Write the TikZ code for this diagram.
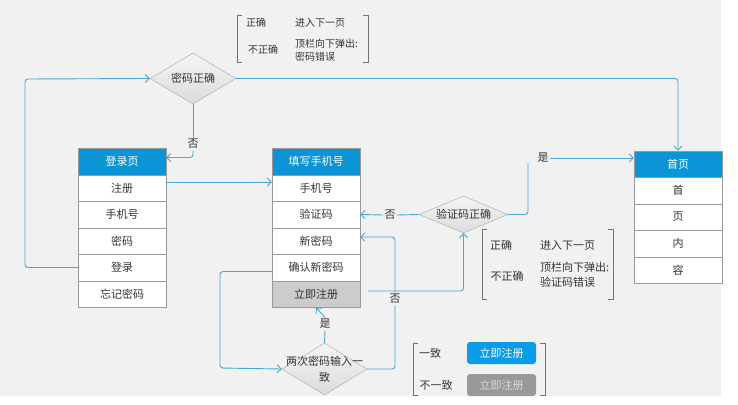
\documentclass[tikz,border=0pt]{standalone}
\usepackage{fontspec}
\setmainfont{Noto Sans CJK SC}
\usetikzlibrary{shapes.geometric,arrows.meta}

\definecolor{bg}{HTML}{F1F1F1}
\definecolor{lineblue}{HTML}{45A8D6}
\definecolor{headblue}{HTML}{0B94D6}
\definecolor{btnblue}{HTML}{0B9BEB}
\definecolor{txt}{HTML}{333333}

\tikzset{
  cell/.style={draw=black!40, fill=white, minimum width=88pt, minimum height=26.5pt, inner sep=0pt, text=txt},
  head/.style={cell, fill=headblue, text=white},
  decision/.style={diamond, draw=black!35, top color=white!96!black, bottom color=black!14, inner sep=0pt, text=txt},
  flow/.style={draw=lineblue, line width=0.9pt, rounded corners=3pt},
  arr/.style={flow, ->},
  tag/.style={fill=bg, inner sep=1.5pt, text=txt},
  note/.style={text=txt, inner sep=0pt},
  bracket/.style={draw=black!55, line width=0.6pt},
  btn/.style={rounded corners=3pt, minimum width=69pt, minimum height=22pt, inner sep=0pt, text=white},
}

\begin{document}
\begin{tikzpicture}[x=1pt,y=-1pt, font=\fontsize{11}{13}\selectfont,
    >={Straight Barb[length=4pt,width=8pt]}]

	% fondo
	\fill[bg] (0,0) rectangle (721,396);
	\useasboundingbox (0,0) rectangle (738,404);

	% 登录页
	\node[head] (login) at (122,161.5) {登录页};
	\foreach \t [count=\i] in {注册,手机号,密码,登录,忘记密码}
		\node[cell] (login\i) at (122,161.5+26.5*\i) {\t};

	% 填写手机号
	\node[head] (phone) at (316,161.5) {填写手机号};
	\foreach \t [count=\i] in {手机号,验证码,新密码,确认新密码}
		\node[cell] (phone\i) at (316,161.5+26.5*\i) {\t};
	\node[cell, fill=black!20] (phone5) at (316,294) {立即注册};

	% 首页
	\node[head] (home) at (678,164) {首页};
	\foreach \t [count=\i] in {首,页,内,容}
		\node[cell] (home\i) at (678,164+26.5*\i) {\t};

	% Rombos
	\node[decision, aspect=1.7, minimum width=86pt, minimum height=51pt] (pwdok) at (193,78.5) {密码正确};
	\node[decision, aspect=2.4, minimum width=89pt, minimum height=37pt] (vcode) at (463.5,214.5) {验证码正确};
	\node[decision, aspect=1.6, minimum width=85pt, minimum height=52pt] (match) at (324.5,369) {};
	\node[note, align=center, font=\fontsize{11}{16}\selectfont] (matchtext) at (match.center) {两次密码输入一\\致};

	% Etiquetas
	\node[tag] (no1) at (193,144) {否};
	\node[tag] (no2) at (390,215) {否};
	\node[tag] (no3) at (395,299) {否};
	\node[tag] (yes1) at (543,158) {是};
	\node[tag] (yes2) at (325,324) {是};
	\coordinate (loopL) at (25,79);
	\coordinate (loopM) at (220,368);
	\coordinate (yesup) at (528,163);

	% Flechas
	\draw[arr] (login4.west) -| (loopL) -- (pwdok.west);
	\draw[arr] (pwdok.east) -| (home.north);
	\draw[flow] (pwdok.south) -- (no1.north);
	\draw[arr] (no1.south) |- ([yshift=4pt]login.east);
	\draw[arr] ([yshift=6pt]login1.east) -- ([yshift=6pt]phone1.west);
	\draw[flow] (vcode.west) -- (no2.east);
	\draw[arr] (no2.west) -- (phone2.east);
	\draw[flow] (vcode.east) -| (yesup);
	\draw[arr] (yes1.east) -- (home.west |- yes1.east);
	\draw[arr, shorten <=8pt] ([yshift=3pt]phone5.east) -| (vcode.south);
	\draw[flow] (match.east) -| (no3.south);
	\draw[arr] (no3.north) |- ([yshift=4pt]phone3.east);
	\draw[arr] ([yshift=-4pt]phone4.west) -| (loopM) -- (match.west);
	\draw[flow] (match.north) -- (yes2.south);
	\draw[arr] (yes2.north) -- (phone5.south);

	% Nota 1
	\draw[bracket] (242,15) -- (237,15) -- (237,62) -- (242,62);
	\draw[bracket] (363,15) -- (368,15) -- (368,62) -- (363,62);
	\begin{scope}[font=\fontsize{10}{12.5}\selectfont]
		\node[note] (n1a) at (256,23) {正确};
		\node[note, anchor=west] (n1b) at (295,23) {进入下一页};
		\node[note] (n1c) at (263,50) {不正确};
		\node[note, anchor=west, align=left] (n1d) at (295,50) {顶栏向下弹出:\\密码错误};
	\end{scope}

	% Nota 2
	\draw[bracket] (487,229) -- (482,229) -- (482,299) -- (487,299);
	\draw[bracket] (608,229) -- (613,229) -- (613,299) -- (608,299);
	\node[note] (n2a) at (501,245) {正确};
	\node[note, anchor=west] (n2b) at (540,245) {进入下一页};
	\node[note] (n2c) at (507,276) {不正确};
	\node[note, anchor=west, align=left, font=\fontsize{11}{15}\selectfont] (n2d) at (540,275) {顶栏向下弹出:\\验证码错误};

	% Nota 3
	\draw[bracket] (418,343) -- (413,343) -- (413,395) -- (418,395);
	\draw[bracket] (540,343) -- (545,343) -- (545,395) -- (540,395);
	\node[note] (n3a) at (430,353) {一致};
	\node[note] (n3b) at (436,385) {不一致};
	\node[btn, fill=btnblue] (btnok) at (501.5,353) {立即注册};
	\node[btn, fill=black!40, text=white!85!black] (btnno) at (501.5,385) {立即注册};

\end{tikzpicture}
\end{document}
